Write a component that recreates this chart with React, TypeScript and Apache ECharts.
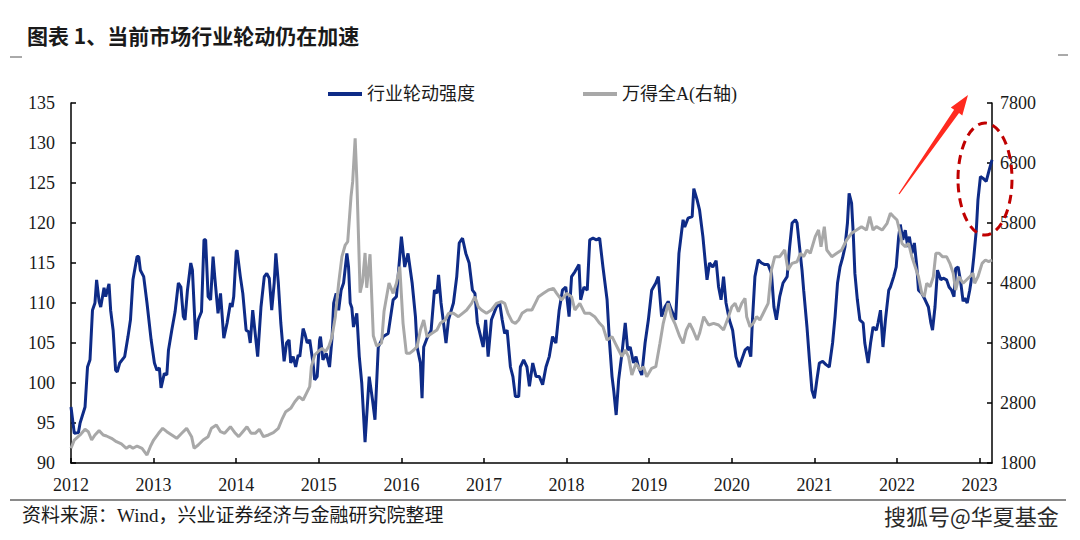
import React, { useEffect, useRef } from "react";
import * as echarts from "echarts";

// Decimal-year x values
const rotationStrength: number[][] = [
[2012.00,97.0],[2012.04,93.7],[2012.09,93.8],[2012.11,95.0],[2012.17,97.0],[2012.20,102.0],[2012.23,102.9],[2012.26,109.1],[2012.29,110.0],[2012.31,112.9],[2012.34,110.2],[2012.36,109.5],[2012.40,111.9],[2012.42,110.8],[2012.46,112.4],[2012.48,109.1],[2012.51,106.6],[2012.54,101.6],[2012.56,101.4],[2012.59,102.5],[2012.65,103.3],[2012.69,105.8],[2012.72,107.9],[2012.75,112.9],[2012.80,115.8],[2012.82,115.8],[2012.84,114.1],[2012.88,113.3],[2012.92,110.0],[2012.97,105.4],
[2013.01,102.5],[2013.04,101.6],[2013.07,101.9],[2013.09,99.4],[2013.13,101.2],[2013.16,101.0],[2013.18,104.1],[2013.22,106.6],[2013.26,108.9],[2013.30,112.5],[2013.33,112.0],[2013.36,108.3],[2013.38,107.9],[2013.41,111.6],[2013.45,115.0],[2013.47,114.1],[2013.51,105.4],[2013.54,107.9],[2013.58,108.9],[2013.61,117.9],[2013.63,117.9],[2013.66,110.8],[2013.69,110.4],[2013.72,115.8],[2013.74,113.3],[2013.78,108.7],[2013.81,111.2],[2013.85,105.6],[2013.89,107.5],[2013.93,110.0],[2013.95,109.5],[2013.97,110.8],
[2014.00,116.4],[2014.01,116.6],[2014.05,113.3],[2014.08,111.2],[2014.12,106.6],[2014.15,106.4],[2014.17,105.0],[2014.20,109.1],[2014.23,106.2],[2014.26,103.3],[2014.30,109.5],[2014.34,113.3],[2014.37,113.7],[2014.40,113.1],[2014.43,109.1],[2014.46,112.5],[2014.48,116.2],[2014.51,112.5],[2014.54,107.5],[2014.58,102.7],[2014.61,105.0],[2014.64,105.4],[2014.66,102.5],[2014.69,103.3],[2014.72,102.0],[2014.75,103.5],[2014.77,103.3],[2014.81,106.8],[2014.83,106.2],[2014.86,105.0],[2014.89,105.4],[2014.93,102.5],[2014.95,100.4],[2014.98,100.8],
[2015.01,105.4],[2015.02,105.8],[2015.05,102.9],[2015.09,103.7],[2015.13,102.0],[2015.16,105.6],[2015.18,110.0],[2015.21,111.2],[2015.24,109.1],[2015.27,111.6],[2015.30,112.5],[2015.34,116.2],[2015.36,114.5],[2015.38,110.0],[2015.40,109.4],[2015.42,107.0],[2015.46,108.7],[2015.49,103.3],[2015.52,100.0],[2015.56,92.6],[2015.61,100.8],[2015.65,97.9],[2015.68,95.4],[2015.72,104.5],[2015.78,105.8],[2015.84,106.2],[2015.90,110.4],[2015.94,110.8],[2015.96,113.3],
[2016.00,118.3],[2016.04,114.5],[2016.08,116.2],[2016.13,112.5],[2016.17,108.3],[2016.19,104.5],[2016.23,102.5],[2016.25,98.1],[2016.27,104.5],[2016.31,105.6],[2016.36,106.6],[2016.40,111.6],[2016.43,111.2],[2016.45,113.5],[2016.48,110.0],[2016.51,107.5],[2016.54,105.0],[2016.57,107.9],[2016.63,110.0],[2016.67,113.3],[2016.70,117.5],[2016.74,118.1],[2016.78,116.2],[2016.82,115.0],[2016.86,111.6],[2016.89,111.2],[2016.92,107.5],[2016.96,105.8],[2016.99,104.5],
[2017.02,107.9],[2017.05,103.3],[2017.09,107.9],[2017.15,109.5],[2017.19,110.0],[2017.22,107.9],[2017.25,106.2],[2017.28,106.6],[2017.32,102.0],[2017.35,100.8],[2017.38,98.3],[2017.42,98.3],[2017.44,102.0],[2017.48,102.9],[2017.52,102.0],[2017.55,99.6],[2017.59,102.5],[2017.63,100.8],[2017.67,100.8],[2017.71,99.8],[2017.75,102.0],[2017.79,103.3],[2017.83,105.8],[2017.87,105.0],[2017.91,109.1],[2017.95,111.6],[2017.99,112.0],
[2018.03,108.3],[2018.06,113.3],[2018.10,113.9],[2018.15,114.8],[2018.17,110.4],[2018.21,112.0],[2018.25,111.6],[2018.28,117.9],[2018.32,118.1],[2018.36,117.9],[2018.40,118.1],[2018.44,114.5],[2018.49,110.4],[2018.52,105.0],[2018.55,100.8],[2018.57,99.1],[2018.60,96.0],[2018.63,100.4],[2018.67,103.7],[2018.71,107.5],[2018.74,104.1],[2018.77,104.5],[2018.81,102.5],[2018.84,103.3],[2018.87,102.0],[2018.91,101.0],[2018.95,105.0],[2018.99,107.9],
[2019.03,111.6],[2019.08,112.5],[2019.11,113.3],[2019.15,108.3],[2019.19,109.5],[2019.23,110.2],[2019.27,109.1],[2019.32,107.9],[2019.36,116.2],[2019.41,120.4],[2019.43,119.5],[2019.47,120.6],[2019.52,120.8],[2019.54,124.3],[2019.58,122.9],[2019.61,121.6],[2019.65,118.3],[2019.68,115.0],[2019.70,112.9],[2019.73,115.0],[2019.77,114.5],[2019.81,115.3],[2019.84,112.0],[2019.87,110.4],[2019.90,113.3],[2019.93,110.0],[2019.97,107.9],
[2020.01,106.6],[2020.05,103.3],[2020.09,102.0],[2020.12,102.9],[2020.16,104.1],[2020.20,104.5],[2020.23,103.3],[2020.25,107.9],[2020.28,113.3],[2020.32,115.4],[2020.36,115.0],[2020.40,114.8],[2020.44,114.8],[2020.48,113.7],[2020.51,109.5],[2020.54,107.9],[2020.58,110.8],[2020.62,112.5],[2020.67,113.3],[2020.70,117.0],[2020.73,120.0],[2020.77,120.4],[2020.79,120.0],[2020.82,117.0],[2020.85,114.1],[2020.87,111.6],[2020.91,107.0],[2020.94,102.9],[2020.97,99.1],
[2021.00,98.1],[2021.03,100.4],[2021.06,102.5],[2021.10,102.7],[2021.14,102.3],[2021.18,102.0],[2021.22,105.0],[2021.25,108.3],[2021.28,112.5],[2021.31,114.5],[2021.34,115.6],[2021.37,117.0],[2021.40,120.0],[2021.42,123.7],[2021.45,122.5],[2021.47,118.7],[2021.49,113.7],[2021.52,110.4],[2021.55,107.9],[2021.59,107.5],[2021.61,105.0],[2021.65,102.5],[2021.68,105.0],[2021.71,107.0],[2021.75,106.6],[2021.77,107.5],[2021.80,109.1],[2021.83,104.5],[2021.86,107.9],[2021.90,111.6],[2021.92,112.0],[2021.96,113.3],[2021.99,114.5],
[2022.02,118.3],[2022.04,119.8],[2022.07,117.9],[2022.10,119.1],[2022.13,117.0],[2022.15,118.3],[2022.18,116.2],[2022.21,117.5],[2022.24,114.5],[2022.26,111.6],[2022.30,111.2],[2022.34,110.4],[2022.38,109.5],[2022.41,107.5],[2022.43,106.6],[2022.46,109.5],[2022.49,114.1],[2022.53,112.9],[2022.56,113.1],[2022.60,112.9],[2022.63,112.0],[2022.66,111.6],[2022.69,110.8],[2022.71,114.3],[2022.74,114.5],[2022.77,112.7],[2022.80,110.2],[2022.82,110.6],[2022.85,110.0],[2022.88,111.6],[2022.90,112.9],[2022.93,115.8],[2022.96,119.1],[2022.98,122.9],
[2023.01,125.8],[2023.04,125.6],[2023.08,125.2],[2023.11,126.4],[2023.15,127.9]
];

const windAllA: number[][] = [
[2012.00,2045],[2012.04,2183],[2012.11,2267],[2012.17,2361],[2012.21,2322],[2012.25,2183],[2012.29,2267],[2012.34,2339],[2012.39,2267],[2012.43,2250],[2012.49,2211],[2012.55,2155],[2012.61,2117],[2012.67,2045],[2012.71,2083],[2012.75,2045],[2012.80,2083],[2012.86,2045],[2012.92,1933],[2012.96,2072],
[2013.00,2183],[2013.06,2295],[2013.11,2378],[2013.16,2322],[2013.22,2267],[2013.28,2211],[2013.34,2295],[2013.40,2378],[2013.46,2239],[2013.49,2045],[2013.54,2100],[2013.60,2183],[2013.66,2239],[2013.70,2378],[2013.76,2433],[2013.81,2322],[2013.86,2295],[2013.93,2405],[2013.99,2295],
[2014.03,2239],[2014.08,2322],[2014.13,2405],[2014.18,2295],[2014.23,2295],[2014.28,2361],[2014.33,2239],[2014.39,2267],[2014.45,2305],[2014.51,2378],[2014.56,2545],[2014.60,2655],[2014.66,2711],[2014.71,2822],[2014.76,2905],[2014.81,2850],[2014.85,2961],[2014.89,3072],[2014.91,3405],[2014.95,3600],[2014.99,3655],
[2015.04,3711],[2015.08,3655],[2015.12,3739],[2015.16,3905],[2015.20,4239],[2015.24,4794],[2015.28,5239],[2015.32,5433],[2015.35,5489],[2015.39,6239],[2015.41,6489],[2015.44,7211],[2015.46,6544],[2015.48,5600],[2015.50,4640],[2015.53,4822],[2015.56,5300],[2015.58,4720],[2015.62,5280],[2015.66,3920],[2015.70,3750],[2015.76,3800],[2015.79,4330],[2015.85,4800],[2015.90,4628],[2015.94,4795],[2015.98,5072],
[2016.02,4128],[2016.06,3628],[2016.10,3628],[2016.15,3683],[2016.19,3739],[2016.23,4017],[2016.27,4183],[2016.31,3905],[2016.37,3961],[2016.43,4017],[2016.47,4128],[2016.53,4183],[2016.57,4295],[2016.63,4295],[2016.69,4239],[2016.74,4295],[2016.79,4350],[2016.85,4461],[2016.89,4572],[2016.93,4405],[2016.97,4350],
[2017.03,4295],[2017.09,4350],[2017.15,4461],[2017.21,4489],[2017.25,4461],[2017.29,4295],[2017.34,4155],[2017.38,4128],[2017.42,4183],[2017.46,4295],[2017.52,4350],[2017.58,4350],[2017.62,4461],[2017.66,4572],[2017.72,4628],[2017.78,4683],[2017.84,4711],[2017.88,4628],[2017.94,4517],
[2018.00,4628],[2018.06,4572],[2018.10,4350],[2018.16,4461],[2018.22,4295],[2018.28,4295],[2018.34,4239],[2018.40,4128],[2018.44,4072],[2018.49,3850],[2018.55,3905],[2018.59,3795],[2018.63,3683],[2018.67,3572],[2018.71,3683],[2018.75,3572],[2018.79,3267],[2018.84,3461],[2018.89,3350],[2018.93,3405],[2018.97,3239],
[2019.03,3378],[2019.08,3405],[2019.13,3795],[2019.17,4128],[2019.23,4461],[2019.27,4239],[2019.31,4128],[2019.37,3905],[2019.41,3795],[2019.45,4017],[2019.49,4128],[2019.53,4017],[2019.58,3850],[2019.61,3961],[2019.66,4239],[2019.72,4100],[2019.78,4128],[2019.84,4100],[2019.90,4017],[2019.96,4239],
[2020.00,4405],[2020.04,4461],[2020.08,4322],[2020.12,4461],[2020.16,4545],[2020.18,4239],[2020.22,4072],[2020.26,4128],[2020.30,4239],[2020.34,4183],[2020.40,4350],[2020.44,4461],[2020.48,5017],[2020.52,5239],[2020.58,5239],[2020.64,5350],[2020.68,5017],[2020.73,5128],[2020.79,5155],[2020.83,5295],[2020.87,5239],[2020.91,5350],[2020.95,5295],
[2021.01,5572],[2021.05,5683],[2021.08,5405],[2021.12,5739],[2021.15,5350],[2021.21,5239],[2021.27,5295],[2021.33,5350],[2021.39,5517],[2021.45,5628],[2021.51,5683],[2021.57,5739],[2021.63,5683],[2021.67,5905],[2021.71,5683],[2021.75,5739],[2021.82,5683],[2021.88,5795],[2021.92,5961],[2021.96,5905],
[2022.00,5850],[2022.03,5683],[2022.06,5461],[2022.10,5405],[2022.14,5461],[2022.18,5239],[2022.22,5072],[2022.26,4905],[2022.30,4628],[2022.33,4572],[2022.36,4795],[2022.40,4739],[2022.44,4905],[2022.47,5295],[2022.51,5295],[2022.55,5239],[2022.60,5239],[2022.64,5128],[2022.68,4961],[2022.71,4683],[2022.75,4905],[2022.80,4795],[2022.84,4850],[2022.88,4905],[2022.92,4961],[2022.94,4795],[2022.98,4905],
[2023.03,5128],[2023.07,5183],[2023.11,5155],[2023.15,5183]
];

const yearTicks = [2012, 2013, 2014, 2015, 2016, 2017, 2018, 2019, 2020, 2021, 2022, 2023];
const seriesNames = ["行业轮动强度", "万得全A(右轴)"];
const titleText = "图表 1、当前市场行业轮动仍在加速";
const sourceText = "资料来源：Wind，兴业证券经济与金融研究院整理";
const watermarkText = "搜狐号@华夏基金";

const SERIF = "'Liberation Serif','Times New Roman','Noto Sans CJK SC',serif";
const CJK = "'Noto Sans CJK SC',sans-serif";

function arrowPoints(tail: number[], tip: number[], headLen: number, headHalf: number, shaftTail: number, shaftHead: number) {
  const dx = tip[0] - tail[0];
  const dy = tip[1] - tail[1];
  const len = Math.sqrt(dx * dx + dy * dy);
  const ux = dx / len, uy = dy / len;
  const nx = -uy, ny = ux;
  const bx = tip[0] - ux * headLen, by = tip[1] - uy * headLen;
  return [
    [tail[0] + nx * shaftTail, tail[1] + ny * shaftTail],
    [bx + nx * shaftHead, by + ny * shaftHead],
    [bx + nx * headHalf, by + ny * headHalf],
    [tip[0], tip[1]],
    [bx - nx * headHalf, by - ny * headHalf],
    [bx - nx * shaftHead, by - ny * shaftHead],
    [tail[0] - nx * shaftTail, tail[1] - ny * shaftTail],
  ];
}

export default function App() {
  const ref = useRef<HTMLDivElement>(null);
  useEffect(() => {
    const chart = echarts.init(ref.current!, null, { renderer: "svg" });
    const axisCommon = {
      axisLine: { show: true, lineStyle: { color: "#000", width: 1.5 } },
      axisTick: { show: true, inside: true, length: 5, lineStyle: { color: "#000", width: 1.5 } },
      splitLine: { show: false },
    };
    chart.setOption({
      animation: false,
      backgroundColor: "#fff",
      title: {
        text: titleText,
        left: 22,
        top: 19,
        textStyle: { fontSize: 21, fontWeight: "bold", fontFamily: CJK, color: "#1a1a1a" },
      },
      legend: {
        data: seriesNames,
        left: 323,
        top: 80,
        icon: "rect",
        itemWidth: 34,
        itemHeight: 4,
        itemGap: 108,
        textStyle: { fontSize: 18, fontFamily: SERIF, color: "#1a1a1a" },
      },
      grid: { left: 71, right: 88, top: 103, bottom: 77 },
      xAxis: {
        type: "value",
        min: 2012,
        max: 2023.15,
        interval: 1,
        ...axisCommon,
        axisTick: { ...axisCommon.axisTick, customValues: yearTicks },
        axisLabel: {
          customValues: yearTicks,
          formatter: (v: number) => String(Math.round(v)),
          margin: 13,
          fontSize: 18,
          fontFamily: SERIF,
          color: "#1a1a1a",
        },
      },
      yAxis: [
        {
          type: "value",
          position: "left",
          min: 90,
          max: 135,
          interval: 5,
          ...axisCommon,
          axisLabel: { margin: 16, fontSize: 18, fontFamily: SERIF, color: "#1a1a1a", formatter: (v: number) => String(v) },
        },
        {
          type: "value",
          position: "right",
          min: 1800,
          max: 7800,
          interval: 1000,
          ...axisCommon,
          axisLabel: { margin: 8, fontSize: 18, fontFamily: SERIF, color: "#1a1a1a", formatter: (v: number) => String(v) },
        },
      ],
      series: [
        {
          name: seriesNames[0],
          type: "line",
          yAxisIndex: 0,
          data: rotationStrength,
          showSymbol: false,
          lineStyle: { color: "#0e2b87", width: 3 },
          itemStyle: { color: "#0e2b87" },
          z: 2,
        },
        {
          name: seriesNames[1],
          type: "line",
          yAxisIndex: 1,
          data: windAllA,
          showSymbol: false,
          lineStyle: { color: "#a8a8a8", width: 3 },
          itemStyle: { color: "#a8a8a8" },
          z: 3,
        },
      ],
      graphic: [
        { type: "line", shape: { x1: 10, y1: 57, x2: 22, y2: 57 }, style: { stroke: "#555", lineWidth: 1 } },
        { type: "line", shape: { x1: 1058, y1: 55, x2: 1068, y2: 55 }, style: { stroke: "#555", lineWidth: 1 } },
        { type: "line", shape: { x1: 10, y1: 500, x2: 1066, y2: 500 }, style: { stroke: "#8a8a8a", lineWidth: 2 } },
        {
          type: "text",
          x: 22,
          y: 506,
          style: { text: sourceText, font: `19px ${SERIF}`, fill: "#1a1a1a" },
        },
        {
          type: "text",
          x: 884,
          y: 504,
          style: { text: watermarkText, font: `22px ${CJK}`, fill: "#2a2a2a" },
        },
        {
          type: "polygon",
          shape: { points: arrowPoints([899, 194], [968, 95], 20, 7, 0.6, 3) },
          style: { fill: "#ff2a1f" },
          z: 100,
        },
        {
          type: "ellipse",
          shape: { cx: 985, cy: 179, rx: 27, ry: 56 },
          style: { fill: "transparent", stroke: "#c00000", lineWidth: 3, lineDash: [9, 6] },
          z: 100,
        },
      ],
    });
    return () => chart.dispose();
  }, []);
  return (
    <div
      ref={ref}
      style={{ position: "fixed", left: 0, top: 0, width: 1080, height: 540, background: "#fff" }}
    />
  );
}
